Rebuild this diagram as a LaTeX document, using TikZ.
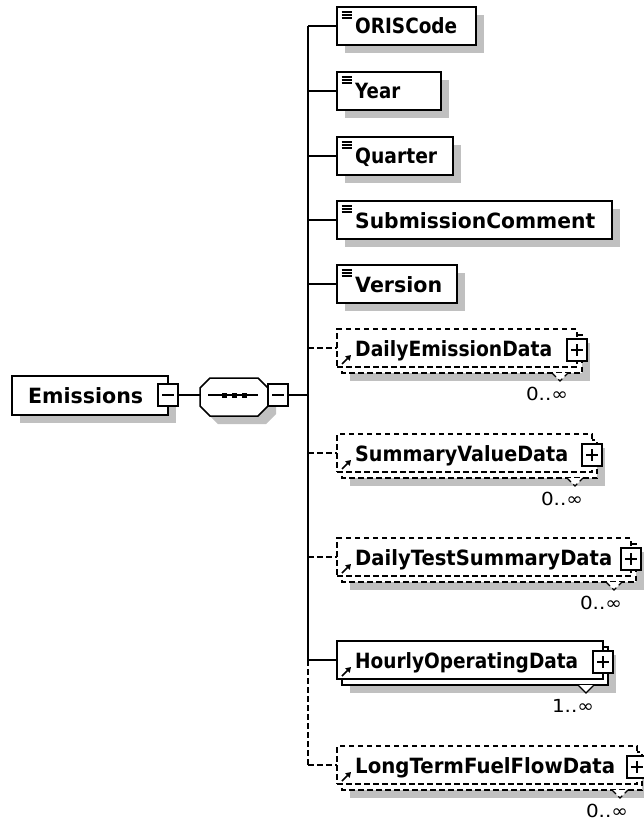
\documentclass[tikz,border=0pt]{standalone}
\usepackage{fontspec}
\setmainfont{DejaVu Sans}
\usepackage{graphicx}
\usetikzlibrary{arrows.meta}
\definecolor{shadowgray}{RGB}{192,192,192}
\tikzset{
  bline/.style={draw=black, line width=1.5pt},
  boxnode/.style={bline, fill=white, rectangle, inner sep=0pt, outer sep=0pt, anchor=north west, minimum height=38pt},
  optional/.style={dash pattern=on 5.5pt off 3.5pt},
  conn/.style={bline},
  lbl/.style={font=\bfseries\fontsize{21}{21}\selectfont, anchor=base west, inner sep=0pt},
  occ/.style={font=\fontsize{18}{18}\selectfont, inner sep=0pt, anchor=center},
  iconline/.style={draw=black, line width=1.1pt},
  pmbox/.style={draw=black, line width=1.3pt, fill=white, rectangle, minimum width=20pt, minimum height=22pt, inner sep=0pt, outer sep=0pt},
  pmline/.style={draw=black, line width=1.2pt},
}
\newcommand{\simpleel}[5]{% #1 name #2 cy #3 right #4 textwidth #5 text
  \fill[shadowgray] (345,#2-11) rectangle (#3+8,#2+27);
  \node[boxnode, minimum width={#3pt-337pt}] (#1) at (337,#2-19) {};
  \coordinate (#1-tr) at (308,#2);
  \foreach \d in {5,8,11} \draw[iconline] (341.5,#2-19+\d) -- (351.5,#2-19+\d);
  \node[lbl] (#1-text) at (355,#2+8) {\resizebox{#4pt}{\height}{#5}};
}
\newcommand{\refel}[7]{% #1 name #2 cy #3 right #4 textwidth #5 text #6 style #7 occurrence
  \fill[shadowgray] (350,#2-5) rectangle (#3+13,#2+33);
  \draw[bline, fill=white, #6] (342,#2-13) rectangle (#3+5,#2+25);
  \draw[bline, fill=white, #6, line width=1.1pt] (#3-25,#2+25) -- (#3-17,#2+33) -- (#3-9,#2+25);
  \node[boxnode, #6, minimum width={#3pt-337pt}] (#1) at (337,#2-19) {};
  \coordinate (#1-tr) at (308,#2);
  \node[lbl] (#1-text) at (355,#2+8) {\resizebox{#4pt}{\height}{#5}};
  \draw[line width=1.6pt, -{Triangle[length=5pt,width=6pt]}] (342,#2+16) -- (351,#2+7);
  \node[pmbox] (#1-plus) at (#3,#2+2) {};
  \draw[pmline] (#1-plus.center) ++(-6,0) -- ++(12,0);
  \draw[pmline] (#1-plus.center) ++(0,-6) -- ++(0,12);
  \node[occ] (#1-occ) at (#3-30,#2+46) {\resizebox{42pt}{\height}{#7}};
}
\begin{document}
\begin{tikzpicture}[x=1pt, y=-1pt]
\useasboundingbox (0,0) rectangle (644,821);
\fill[white] (0,0) rectangle (644,821);

% root element
\fill[shadowgray] (20,384) rectangle (176,423);
\node[boxnode, minimum width=156pt, minimum height=39pt] (emis) at (12,376) {};
\node[lbl] (emis-text) at (28,403.5) {\resizebox{115pt}{\height}{Emissions}};
\node[pmbox] (emis-minus) at (168,395) {};
\draw[pmline] (emis-minus.center) ++(-6,0) -- ++(12,0);

% sequence compositor
\fill[shadowgray, shift={(8,8)}] (200,388) -- (210,378) -- (258,378) -- (268,388) -- (268,406) -- (258,416) -- (210,416) -- (200,406) -- cycle;
\draw[bline, fill=white] (200,388) -- (210,378) -- (258,378) -- (268,388) -- (268,406) -- (258,416) -- (210,416) -- (200,406) -- cycle;
\coordinate (seq-in) at (200,395);
\draw[line width=1.2pt] (208,395) -- (258,395);
\fill (222,392.5) rectangle (227,397.5);
\fill (232,392.5) rectangle (237,397.5);
\fill (242,392.5) rectangle (247,397.5);
\node[pmbox] (seq-minus) at (278,395) {};
\draw[pmline] (seq-minus.center) ++(-6,0) -- ++(12,0);
\coordinate (seq-tr) at (308,395);
\draw[conn] (emis-minus.east) -- (seq-in);
\draw[conn] (seq-minus.east) -- (seq-tr);

% children
\simpleel{oris}{26}{476}{102}{ORISCode}
\simpleel{year}{91}{441}{45}{Year}
\simpleel{quarter}{156}{453}{82}{Quarter}
\simpleel{subm}{220}{612}{240}{SubmissionComment}
\simpleel{version}{284}{457}{87}{Version}
\refel{daily}{348}{577}{197}{DailyEmissionData}{optional}{0..∞}
\refel{summ}{453}{592}{213}{SummaryValueData}{optional}{0..∞}
\refel{dtest}{557}{631}{257}{DailyTestSummaryData}{optional}{0..∞}
\refel{hourly}{660}{603}{223}{HourlyOperatingData}{solid}{1..∞}
\refel{longt}{765}{637}{260}{LongTermFuelFlowData}{optional}{0..∞}

% trunk and branches
\draw[conn] (oris-tr) -- (hourly-tr);
\draw[conn, optional] (hourly-tr) -- (longt-tr);
\draw[conn] (oris-tr) -- (oris.west);
\draw[conn] (year-tr) -- (year.west);
\draw[conn] (quarter-tr) -- (quarter.west);
\draw[conn] (subm-tr) -- (subm.west);
\draw[conn] (version-tr) -- (version.west);
\draw[conn, optional] (daily-tr) -- (daily.west);
\draw[conn, optional] (summ-tr) -- (summ.west);
\draw[conn, optional] (dtest-tr) -- (dtest.west);
\draw[conn] (hourly-tr) -- (hourly.west);
\draw[conn, optional] (longt-tr) -- (longt.west);
\end{tikzpicture}
\end{document}
